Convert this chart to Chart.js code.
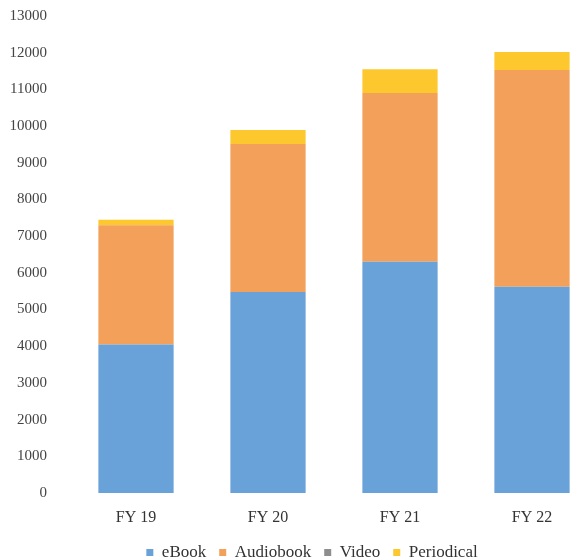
<!DOCTYPE html>
<html>
<head>
<meta charset="utf-8">
<script src="https://cdn.jsdelivr.net/npm/chart.js@4"></script>
<style>
  html, body { margin: 0; padding: 0; background: #fff; overflow: hidden; }
  #wrap { width: 624px; height: 579px; margin-top: -8px; }
</style>
</head>
<body>
<div id="wrap"><canvas id="myChart" width="624" height="579"></canvas></div>
<script>
const years = ['FY 19', 'FY 20', 'FY 21', 'FY 22']
const ebook = [4050, 5480, 6300, 5620]
const audiobook = [3250, 4030, 4600, 5910]
const video = [0, 0, 0, 0]
const periodical = [150, 380, 650, 490]

const serif = '"Liberation Serif", "Times New Roman", serif'

const ctx = document.getElementById('myChart').getContext('2d')
const chart = new Chart(ctx, {
  type: 'bar',
  data: {
    labels: years,
    datasets: [
      { label: 'eBook', data: ebook, backgroundColor: '#69a2d9' },
      { label: 'Audiobook', data: audiobook, backgroundColor: '#f2a05a' },
      { label: 'Video', data: video, backgroundColor: '#8e8e8e' },
      { label: 'Periodical', data: periodical, backgroundColor: '#fcc82e' }
    ]
  },
  options: {
    responsive: false,
    animation: false,
    devicePixelRatio: 1,
    layout: { padding: { top: 7, right: 0, left: 0, bottom: 0 } },
    datasets: { bar: { barPercentage: 0.57, categoryPercentage: 1 } },
    plugins: {
      tooltip: { enabled: false },
      legend: {
        position: 'bottom',
        labels: {
          boxWidth: 7,
          boxHeight: 7,
          padding: 13,
          color: '#333',
          font: { family: serif, size: 17 }
        }
      }
    },
    scales: {
      x: {
        stacked: true,
        grid: { display: false },
        border: { display: false },
        ticks: { color: '#333', padding: 7, font: { family: serif, size: 16 } },
        afterFit: (scale) => { scale.height = 38 }
      },
      y: {
        stacked: true,
        min: 0,
        max: 13000,
        grid: { display: false },
        border: { display: false },
        ticks: {
          stepSize: 1000,
          color: '#444',
          padding: 15,
          font: { family: serif, size: 15 },
          callback: (value) => String(value)
        },
        afterFit: (scale) => { scale.width = 70 }
      },
      // empty right-hand strip so the plot ends where the picture crops it
      y2: {
        position: 'right',
        grid: { display: false },
        border: { display: false },
        ticks: { display: false },
        afterFit: (scale) => { scale.width = 26 }
      }
    }
  }
})
</script>
</body>
</html>
